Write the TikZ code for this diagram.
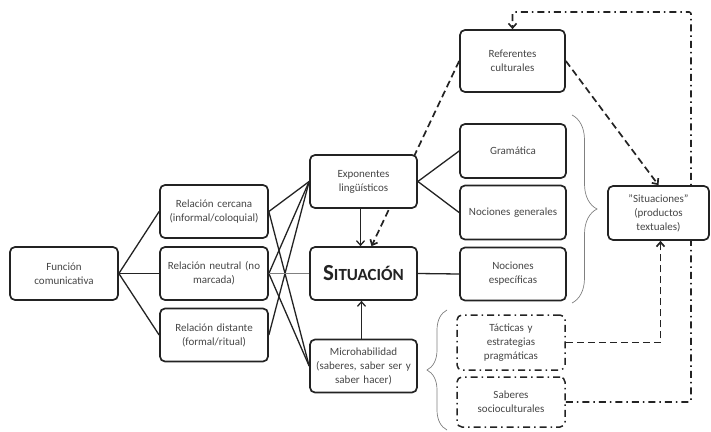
\documentclass[tikz,border=0pt]{standalone}
\usepackage{fontspec}
\setmainfont{Carlito}
\usepackage{xcolor}
\usetikzlibrary{arrows.meta, decorations.pathreplacing}
\definecolor{txt}{RGB}{70,70,70}
\definecolor{ln}{RGB}{35,35,35}

\begin{document}
\begin{tikzpicture}[x=1pt, y=-1pt, font=\fontsize{11}{14}\selectfont, >={Straight Barb[length=4.5pt,width=8pt]},
  b/.style={draw=ln, line width=1.7pt, rounded corners=5pt, fill=white, text=txt, align=center, inner xsep=2pt, inner ysep=1pt, text width=104pt, minimum height=53pt},
  dd/.style={b, line width=1.5pt, dash pattern=on 7pt off 4pt on 1.5pt off 4pt},
  ln/.style={draw=ln, line width=1.3pt},
  dsh/.style={draw=ln, line width=1.7pt, dash pattern=on 7pt off 4pt, ->},
  dsd/.style={draw=ln, line width=1.6pt, dash pattern=on 7pt off 4pt on 1.5pt off 4pt, rounded corners=2pt, ->},
  brc/.style={draw=gray, line width=0.7pt, decorate, decoration={brace, amplitude=#1}}]
\useasboundingbox (0,0) rectangle (711,431);
\node[b] (fun) at (64,273.5) {Función\\comunicativa};
\node[b] (rcer) at (214,211.5) {Relación cercana\\(informal/coloquial)};
\node[b] (rneu) at (214,273.5) {Relación neutral (no\\marcada)};
\node[b] (rdis) at (214,335) {Relación distante\\(formal/ritual)};
\node[b, text width=103pt] (sit) at (363.5,273.5) {\bfseries\color{ln}\fontsize{23}{23}\selectfont S\fontsize{17}{17}\selectfont ITUACIÓN};
\node[b, text width=103pt] (micro) at (363.5,366) {Microhabilidad\\(saberes, saber ser y\\saber hacer)};
\node[b, text width=101pt, minimum height=62pt] (ref) at (512.5,61) {Referentes\\culturales};
\node[b, text width=102pt, minimum height=54pt] (gram) at (513,151) {Gramática};
\node[b, text width=102pt, minimum height=54pt] (ngen) at (513,212.5) {Nociones generales};
\node[b, text width=102pt, minimum height=53pt] (nesp) at (513,274) {Nociones\\específicas};
\node[dd, minimum height=55pt] (tact) at (511,342.5) {Tácticas y\\estrategias\\pragmáticas};
\node[dd, minimum height=50pt] (saber) at (511,402) {Saberes\\socioculturales};
\draw[dsh] (ref.west) -- ([xshift=8pt]sit.north);
\coordinate (top) at (691,12);
\draw[dsd] (saber.east) -| (top) -| (ref.north);
\node[b, text width=103pt] (expo) at (363.5,181.5) {Exponentes\\lingüísticos};
\node[b, text width=97pt, minimum height=54pt] (situs) at (658.5,213) {\symbol{34}Situaciones\symbol{34}\\(productos\\textuales)};
\draw[ln] (fun.east) -- (rcer.west);
\draw[ln] (fun.east) -- (rneu.west);
\draw[ln] (fun.east) -- (rdis.west);
\draw[ln] (rcer.east) -- (expo.west);
\draw[ln] (rcer.east) -- (micro.west);
\draw[ln] (rneu.east) -- (expo.west);
\draw[ln] (rneu.east) -- (micro.west);
\draw[ln] (rdis.east) -- (expo.west);
\draw[draw=gray, line width=0.6pt] (rneu.east) -- (sit.west);
\draw[ln] (expo.east) -- (gram.west);
\draw[ln] (expo.east) -- (ngen.west);
\draw[ln] (sit.east) -- (nesp.west);
\draw[ln, ->] ([xshift=-3pt]expo.south) -- ([xshift=-3pt]sit.north);
\draw[ln, ->] ([xshift=-2pt]micro.north) -- ([xshift=-2pt]sit.south);
\draw[dsh] (ref.east) -- (situs.north);
\draw[dsh] (tact.east) -| ([xshift=2pt]situs.south);
\draw[brc=25pt] (572,115) -- (572,303);
\draw[brc=20pt] (447,430) -- (447,310);
\end{tikzpicture}
\end{document}
